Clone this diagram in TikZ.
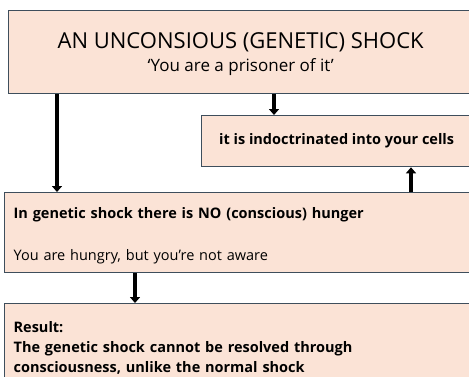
\documentclass[tikz,border=0pt]{standalone}
\usepackage{fontspec}
\setmainfont{Open Sans}
\usetikzlibrary{positioning, arrows.meta}
\definecolor{colorBox}{RGB}{251, 227, 214}
\definecolor{colorEdge}{RGB}{62, 78, 92}
\tikzstyle{shockbox} = [rectangle, draw=colorEdge, fill=colorBox, line width=1.3pt, anchor=north west, inner sep=0pt]
\tikzstyle{arrow} = [line width=3.5pt, -{Triangle[length=6pt, width=10pt]}]

\begin{document}
\begin{tikzpicture}[x=1bp, y=-1bp]

	\useasboundingbox (0,0) rectangle (469,376);
	\clip (0,0) rectangle (469,376);

	% boxes
	\node (pTop)[shockbox, minimum width=464bp, minimum height=83bp, align=center, font=\fontsize{22bp}{23bp}\selectfont] at (8,10)
		{\rule{0pt}{19bp}AN UNCONSIOUS (GENETIC) SHOCK\\
		 \fontsize{17bp}{23bp}\selectfont `You are a prisoner of it'};
	\node (pIndoc)[shockbox, minimum width=270bp, minimum height=51bp, font=\bfseries\fontsize{14.5bp}{17bp}\selectfont] at (201,115)
		{it is indoctrinated into your cells};
	\node (pHunger)[shockbox, minimum width=470bp, minimum height=80bp, text width=452bp, inner xsep=9bp, align=left, font=\fontsize{14.5bp}{17bp}\selectfont] at (4,192)
		{\rule{0pt}{17bp}\textbf{In genetic shock there is NO (conscious) hunger}\\[25bp]
		 You are hungry, but you’re not aware};
	\node (pResult)[shockbox, minimum width=470bp, minimum height=88bp, text width=452bp, inner xsep=9bp, align=left, font=\bfseries\fontsize{14.5bp}{20bp}\selectfont] at (4,303)
		{Result:\\
		 The genetic shock cannot be resolved through\\
		 consciousness, unlike the normal shock};

	% arrow positions
	\coordinate (aLeft) at ([xshift=49bp]pTop.south west);
	\coordinate (aMid) at ([xshift=73bp]pIndoc.north west);
	\coordinate (aUp) at ([xshift=210bp]pIndoc.south west);
	\coordinate (aDown) at ([xshift=131bp]pHunger.south west);

	% lines and arrows
	\draw[arrow] (aLeft) -- (aLeft |- pHunger.north);
	\draw[arrow] (aMid |- pTop.south) -- (aMid);
	\draw[arrow] (aUp |- pHunger.north) -- (aUp);
	\draw[arrow] (aDown) -- (aDown |- pResult.north);

\end{tikzpicture}
\end{document}
